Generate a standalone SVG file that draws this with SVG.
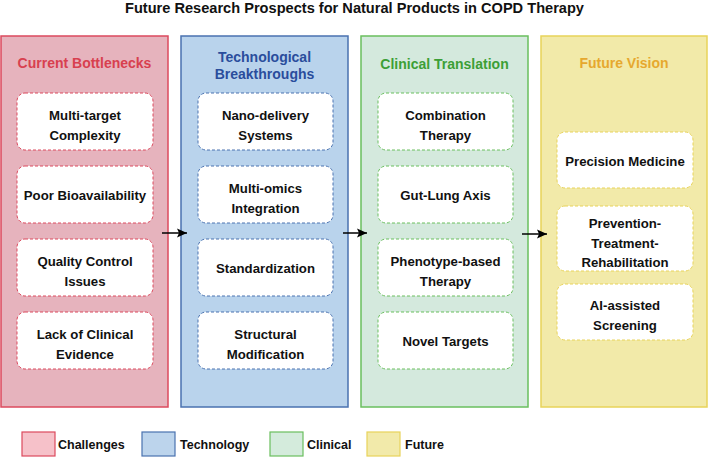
<svg xmlns="http://www.w3.org/2000/svg" width="709" height="458" viewBox="0 0 709 458">
<style>
text{font-family:"Liberation Sans",Arial,sans-serif;font-weight:bold;text-anchor:middle}
.title{font-size:14.6px;fill:#111}
.ph{font-size:14px}
.bt{font-size:13.2px;fill:#111}
.lg{font-size:12.5px;fill:#111;text-anchor:start}
.box{fill:#fff;stroke-width:1;stroke-dasharray:3 2}
.panel{stroke-width:1.5}
.r .panel{fill:#e6b3bd;stroke:#dc4a5e}.r .box{stroke:#dc4a5e}.r .ph{fill:#d8404f}
.b .panel{fill:#b9d3ec;stroke:#4a72b0}.b .box{stroke:#4a72b0}.b .ph{fill:#2a4d9c}
.g .panel{fill:#d4e9dd;stroke:#6abf5e}.g .box{stroke:#6abf5e}.g .ph{fill:#3c9f36}
.y .panel{fill:#f2eaa9;stroke:#e8d35a}.y .box{stroke:#e8d35a}.y .ph{fill:#e6a82e}
</style>
<defs>
<marker id="ah" markerWidth="11" markerHeight="11" refX="10" refY="5.5" orient="auto" markerUnits="userSpaceOnUse">
<path d="M0,1 L10,5.5 L0,10 L2,5.5 Z" fill="#000"/>
</marker>
</defs>
<rect width="709" height="458" fill="#fff"/>
<text class="title" x="354.5" y="13">Future Research Prospects for Natural Products in COPD Therapy</text>

<g id="challenges" class="r">
<rect class="panel" x="1" y="36" width="167" height="371"/>
<text class="ph" x="84.5" y="68">Current Bottlenecks</text>
<g id="multi-target"><rect class="box" x="17" y="93" width="136" height="57" rx="8"/><text class="bt" x="85" y="120">Multi-target</text><text class="bt" x="85" y="140">Complexity</text></g>
<g id="bioavailability"><rect class="box" x="17" y="166" width="136" height="57" rx="8"/><text class="bt" x="85" y="199.5">Poor Bioavailability</text></g>
<g id="quality"><rect class="box" x="17" y="239" width="136" height="57" rx="8"/><text class="bt" x="85" y="266">Quality Control</text><text class="bt" x="85" y="286">Issues</text></g>
<g id="evidence"><rect class="box" x="17" y="312" width="136" height="57" rx="8"/><text class="bt" x="85" y="339">Lack of Clinical</text><text class="bt" x="85" y="359">Evidence</text></g>
</g>

<g id="technology" class="b">
<rect class="panel" x="181" y="36" width="167" height="371"/>
<text class="ph" x="264.5" y="62">Technological</text>
<text class="ph" x="264.5" y="79">Breakthroughs</text>
<g id="nano"><rect class="box" x="198" y="93" width="135" height="57" rx="8"/><text class="bt" x="265.5" y="120">Nano-delivery</text><text class="bt" x="265.5" y="140">Systems</text></g>
<g id="omics"><rect class="box" x="198" y="166" width="135" height="57" rx="8"/><text class="bt" x="265.5" y="193">Multi-omics</text><text class="bt" x="265.5" y="213">Integration</text></g>
<g id="standardization"><rect class="box" x="198" y="239" width="135" height="57" rx="8"/><text class="bt" x="265.5" y="272.5">Standardization</text></g>
<g id="structural"><rect class="box" x="198" y="312" width="135" height="57" rx="8"/><text class="bt" x="265.5" y="339">Structural</text><text class="bt" x="265.5" y="359">Modification</text></g>
</g>

<g id="clinical" class="g">
<rect class="panel" x="361" y="36" width="167" height="371"/>
<text class="ph" x="444.5" y="69">Clinical Translation</text>
<g id="combination"><rect class="box" x="378" y="93" width="135" height="57" rx="8"/><text class="bt" x="445.5" y="120">Combination</text><text class="bt" x="445.5" y="140">Therapy</text></g>
<g id="gut-lung"><rect class="box" x="378" y="166" width="135" height="57" rx="8"/><text class="bt" x="445.5" y="199.5">Gut-Lung Axis</text></g>
<g id="phenotype"><rect class="box" x="378" y="239" width="135" height="57" rx="8"/><text class="bt" x="445.5" y="266">Phenotype-based</text><text class="bt" x="445.5" y="286">Therapy</text></g>
<g id="targets"><rect class="box" x="378" y="312" width="135" height="57" rx="8"/><text class="bt" x="445.5" y="345.5">Novel Targets</text></g>
</g>

<g id="future" class="y">
<rect class="panel" x="541" y="36" width="166" height="371"/>
<text class="ph" x="624" y="68">Future Vision</text>
<g id="precision"><rect class="box" x="557" y="132" width="136" height="56" rx="8"/><text class="bt" x="625" y="165.5">Precision Medicine</text></g>
<g id="prevention"><rect class="box" x="557" y="206" width="136" height="65" rx="8"/><text class="bt" x="625" y="228">Prevention-</text><text class="bt" x="625" y="247.5">Treatment-</text><text class="bt" x="625" y="267">Rehabilitation</text></g>
<g id="ai"><rect class="box" x="557" y="284" width="136" height="56" rx="8"/><text class="bt" x="625" y="310">AI-assisted</text><text class="bt" x="625" y="330">Screening</text></g>
</g>

<g id="connectors" stroke="#000" stroke-width="1.5" fill="none">
<line x1="162" y1="233" x2="187" y2="233" marker-end="url(#ah)"/>
<line x1="343" y1="233" x2="367" y2="233" marker-end="url(#ah)"/>
<line x1="522" y1="234" x2="547" y2="234" marker-end="url(#ah)"/>
</g>

<g id="legend">
<rect x="22" y="432" width="33" height="24" fill="#f6c1c9" stroke="#dc4a5e" stroke-width="1.2"/>
<text class="lg" x="58" y="449">Challenges</text>
<rect x="142" y="432" width="33" height="24" fill="#bcd4ec" stroke="#4a72b0" stroke-width="1.2"/>
<text class="lg" x="180" y="449">Technology</text>
<rect x="270" y="432" width="33" height="24" fill="#d4ebdc" stroke="#6abf5e" stroke-width="1.2"/>
<text class="lg" x="307" y="449">Clinical</text>
<rect x="367" y="432" width="33" height="24" fill="#f2eaaa" stroke="#e8d35a" stroke-width="1.2"/>
<text class="lg" x="405" y="449">Future</text>
</g>
</svg>
